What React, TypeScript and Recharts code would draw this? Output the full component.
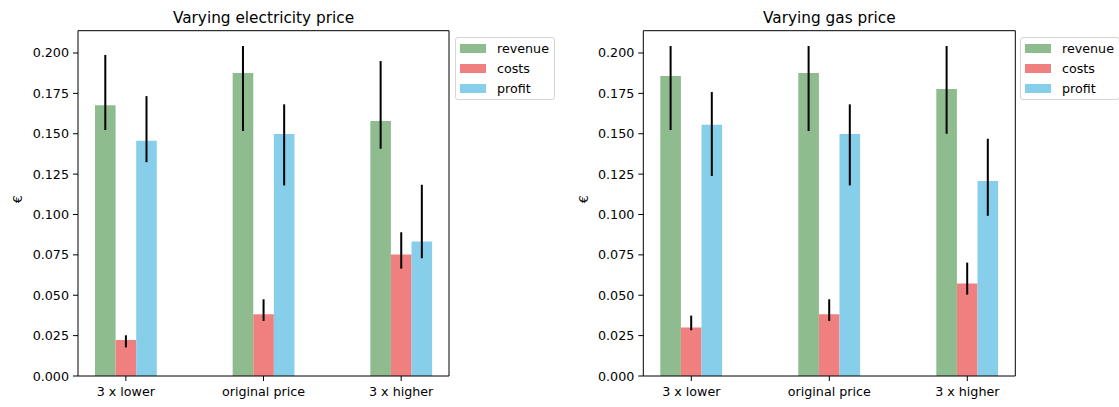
import { BarChart, Bar, XAxis, YAxis, ErrorBar, Legend } from "recharts";

const categories = ["3 x lower", "original price", "3 x higher"];

// electricity price scenario: bar heights and [low, high] spread
const elecRevenue = [0.1676, 0.1876, 0.1579];
const elecRevenueRange = [[0.1523, 0.1988], [0.1517, 0.2043], [0.1407, 0.195]];
const elecCosts = [0.0223, 0.0382, 0.0752];
const elecCostsRange = [[0.0177, 0.0252], [0.0341, 0.0475], [0.0665, 0.089]];
const elecProfit = [0.1457, 0.1498, 0.0833];
const elecProfitRange = [[0.1324, 0.1733], [0.118, 0.1682], [0.0729, 0.1184]];

// gas price scenario
const gasRevenue = [0.1857, 0.1876, 0.1777];
const gasRevenueRange = [[0.1523, 0.2043], [0.1517, 0.2043], [0.15, 0.2043]];
const gasCosts = [0.03, 0.0382, 0.0572];
const gasCostsRange = [[0.0283, 0.0374], [0.0341, 0.0475], [0.0504, 0.0702]];
const gasProfit = [0.1556, 0.1498, 0.1207];
const gasProfitRange = [[0.1238, 0.1758], [0.118, 0.1682], [0.0992, 0.1469]];

const yTicks = [0, 0.025, 0.05, 0.075, 0.1, 0.125, 0.15, 0.175, 0.2];
const yDomain = [0, 0.2138];

const series = [
  { key: "revenue", color: "#8FBC8F" },
  { key: "costs", color: "#F08080" },
  { key: "profit", color: "#87CEEB" },
];

const FONT = "'DejaVu Sans', sans-serif";
const FS = 12.7;

function buildRows(
  revenue: number[], revenueRange: number[][],
  costs: number[], costsRange: number[][],
  profit: number[], profitRange: number[][]
) {
  // ErrorBar takes [below, above] offsets relative to the bar value
  const err = (v: number, r: number[]) => [v - r[0], r[1] - v];
  return categories.map((name, i) => ({
    name,
    revenue: revenue[i],
    costs: costs[i],
    profit: profit[i],
    revenueErr: err(revenue[i], revenueRange[i]),
    costsErr: err(costs[i], costsRange[i]),
    profitErr: err(profit[i], profitRange[i]),
    frame: 0,
  }));
}

const elecRows = buildRows(elecRevenue, elecRevenueRange, elecCosts, elecCostsRange, elecProfit, elecProfitRange);
const gasRows = buildRows(gasRevenue, gasRevenueRange, gasCosts, gasCostsRange, gasProfit, gasProfitRange);

const LegendBox = () => (
  <div
    style={{
      border: "1px solid #d5d5d5",
      borderRadius: 3,
      background: "#fff",
      padding: "0 5px 1px 4px",
      fontFamily: FONT,
      fontSize: FS,
      color: "#000",
      whiteSpace: "nowrap",
    }}
  >
    {series.map((s) => (
      <div key={s.key} style={{ height: 20, display: "flex", alignItems: "center" }}>
        <span style={{ width: 26, height: 9, background: s.color, marginRight: 11, display: "inline-block" }} />
        <span>{s.key}</span>
      </div>
    ))}
  </div>
);

interface PanelProps {
  title: string;
  rows: ReturnType<typeof buildRows>;
  left: number;
  width: number;
  marginLeft: number;
  marginRight: number;
  legendLeft: number;
}

function Panel({ title, rows, left, width, marginLeft, marginRight, legendLeft }: PanelProps) {
  const tickStyle = { fontSize: FS, fill: "#000", fontFamily: FONT };
  const pad = { left: -21, right: -21 };
  return (
    <div style={{ position: "absolute", left, top: 0 }}>
      <BarChart
        width={width}
        height={407}
        data={rows}
        margin={{ top: 29.7, right: marginRight - 1, bottom: 1, left: marginLeft }}
        barGap={0}
      >
        <XAxis
          dataKey="name"
          height={30}
          padding={pad}
          tick={tickStyle}
          tickSize={5}
          tickMargin={5.5}
          axisLine={{ stroke: "#000" }}
          tickLine={{ stroke: "#000" }}
        />
        {/* top and right spines, the title hangs off the top one */}
        <XAxis
          xAxisId="top"
          orientation="top"
          dataKey="name"
          height={1}
          padding={pad}
          tick={false}
          tickLine={false}
          axisLine={{ stroke: "#000" }}
          label={{ value: title, position: "top", offset: 7, fontSize: 15.3, fill: "#000", fontFamily: FONT }}
        />
        <YAxis
          type="number"
          domain={yDomain}
          ticks={yTicks}
          width={60}
          tickFormatter={(v: number) => v.toFixed(3)}
          tick={tickStyle}
          tickSize={5}
          tickMargin={4}
          axisLine={{ stroke: "#000" }}
          tickLine={{ stroke: "#000" }}
          label={{ value: "€", angle: -90, position: "insideLeft", offset: 0, fontSize: FS, fill: "#000", fontFamily: FONT }}
        />
        <YAxis
          yAxisId="right"
          orientation="right"
          type="number"
          domain={yDomain}
          width={1}
          tick={false}
          tickLine={false}
          axisLine={{ stroke: "#000" }}
        />
        {series.map((s) => (
          <Bar key={s.key} dataKey={s.key} fill={s.color} barSize={20.6} isAnimationActive={false}>
            <ErrorBar dataKey={`${s.key}Err`} width={0} stroke="#000" strokeWidth={2} direction="y" />
          </Bar>
        ))}
        <Bar
          xAxisId="top"
          yAxisId="right"
          dataKey="frame"
          fill="none"
          legendType="none"
          isAnimationActive={false}
        />
        <Legend
          layout="horizontal"
          verticalAlign="middle"
          align="center"
          content={<LegendBox />}
          wrapperStyle={{ left: legendLeft, top: 37, width: "auto", height: "auto" }}
        />
      </BarChart>
    </div>
  );
}

export default function App() {
  return (
    <div
      style={{
        position: "absolute",
        left: 0,
        top: 0,
        width: 1119,
        height: 407,
        overflow: "hidden",
        background: "#fff",
        fontFamily: FONT,
      }}
    >
      <Panel
        title="Varying electricity price"
        rows={elecRows}
        left={0}
        width={560}
        marginLeft={18}
        marginRight={111}
        legendLeft={455}
      />
      <Panel
        title="Varying gas price"
        rows={gasRows}
        left={560}
        width={559}
        marginLeft={23.3}
        marginRight={103.7}
        legendLeft={460}
      />
    </div>
  );
}
